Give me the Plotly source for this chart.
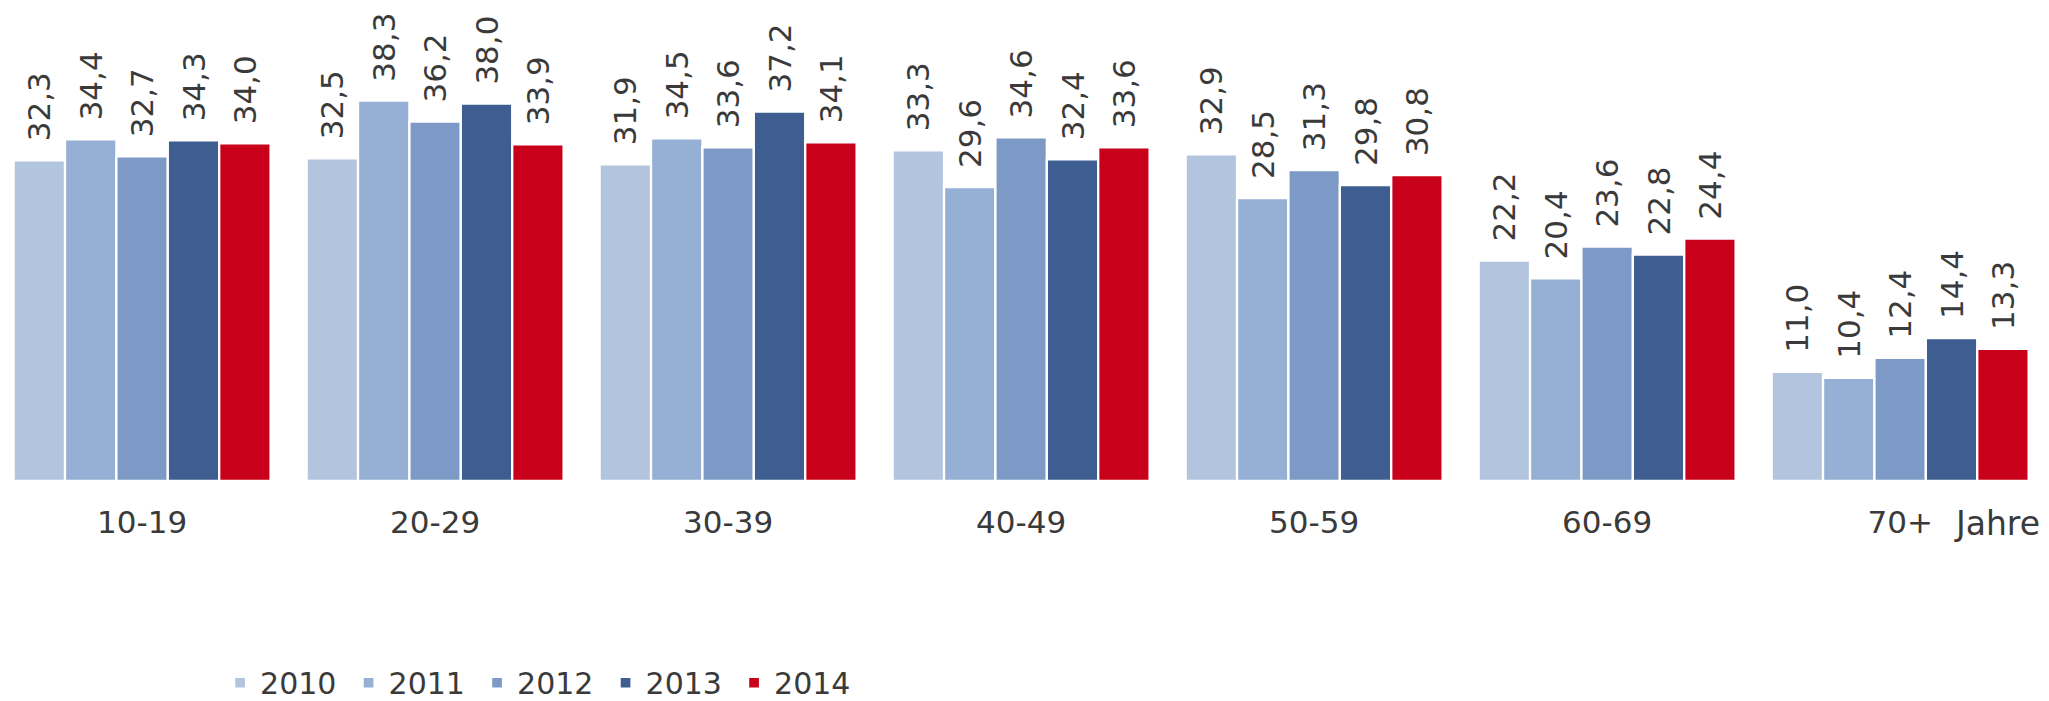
import plotly.graph_objects as go

# Age groups and yearly values
age_groups = ['10-19', '20-29', '30-39', '40-49', '50-59', '60-69', '70+']
years = ['2010', '2011', '2012', '2013', '2014']

values_2010 = [32.3, 32.5, 31.9, 33.3, 32.9, 22.2, 11.0]
values_2011 = [34.4, 38.3, 34.5, 29.6, 28.5, 20.4, 10.4]
values_2012 = [32.7, 36.2, 33.6, 34.6, 31.3, 23.6, 12.4]
values_2013 = [34.3, 38.0, 37.2, 32.4, 29.8, 22.8, 14.4]
values_2014 = [34.0, 33.9, 34.1, 33.6, 30.8, 24.4, 13.3]

colors = ['#b3c4df', '#96afd4', '#7d9ac6', '#3e5d90', '#c8001a']

FONT = 'DejaVu Sans'
TEXT_COLOR = '#3a3a3a'

fig = go.Figure()

for year, vals, color in zip(years,
                             [values_2010, values_2011, values_2012, values_2013, values_2014],
                             colors):
    fig.add_trace(go.Bar(
        x=age_groups,
        y=vals,
        name=year,
        marker=dict(color=color, line=dict(color='white', width=2.3)),
        texttemplate='\u00a0\u2009%{y:.1f}',  # small gap between bar and label
        textposition='outside',
        textangle=-90,
        constraintext='none',
        cliponaxis=False,
        textfont=dict(family=FONT, size=31, color=TEXT_COLOR),
    ))

# "Jahre" sits to the right of the last tick label
fig.add_annotation(
    x='70+', y=0, xref='x', yref='y',
    text='Jahre', showarrow=False,
    xanchor='left', yanchor='middle',
    xshift=52, yshift=-42,
    font=dict(family=FONT, size=33, color=TEXT_COLOR),
)

fig.update_layout(
    width=2049,
    height=701,
    template='plotly_white',
    separators=',.',
    barmode='group',
    bargap=0.123,
    bargroupgap=0,
    plot_bgcolor='white',
    paper_bgcolor='white',
    margin=dict(l=0, r=0, t=0, b=220),
    font=dict(family=FONT, size=31, color=TEXT_COLOR),
    xaxis=dict(
        range=[-0.485, 6.508],
        showgrid=False, showline=False, zeroline=False,
        ticks='', ticklabelstandoff=20,
        tickfont=dict(family=FONT, size=31, color=TEXT_COLOR),
    ),
    yaxis=dict(
        range=[0, 48.44],
        visible=False, showgrid=False, zeroline=False,
    ),
    legend=dict(
        orientation='h',
        xref='container', x=0.1074, xanchor='left',
        yref='container', y=0.026, yanchor='middle',
        font=dict(family=FONT, size=30, color=TEXT_COLOR),
        entrywidth=83.5,
        bgcolor='rgba(0,0,0,0)',
    ),
)

# remove the default page margin so the figure fills the window exactly
fig.write_html('out.html', config={'displayModeBar': False},
               post_script="document.body.style.margin='0px';")
